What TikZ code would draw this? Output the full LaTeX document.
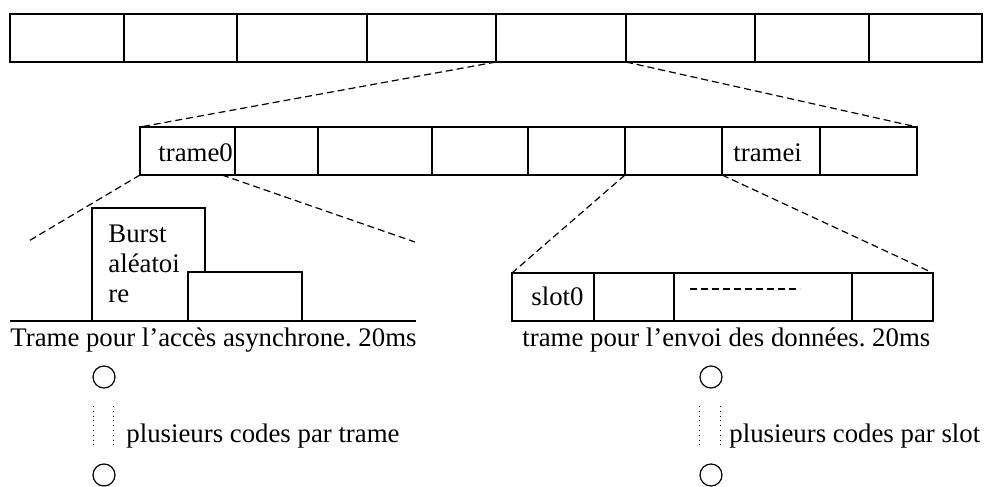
\documentclass[tikz,border=0pt]{standalone}
\usepackage{fontspec}
\setmainfont{Liberation Serif}
\frenchspacing
\begin{document}
\begin{tikzpicture}[x=0.5pt,y=-0.5pt,
  cellbox/.style={draw, line width=0.8pt, inner sep=0pt, outer sep=0pt},
  zoomline/.style={dash pattern=on 3.5pt off 2pt, line width=0.6pt},
  lbl/.style={inner sep=0pt, anchor=base west, font=\fontsize{13.4}{15}\selectfont},
  captext/.style={inner sep=0pt, anchor=base west, font=\fontsize{13.4}{15}\selectfont},
  dotline/.style={dotted, line width=0.4pt},
  ring/.style={circle, draw, line width=0.6pt, minimum size=11pt, inner sep=0pt}]
\useasboundingbox (0,0) rectangle (985,487);
\newcommand\cellnode[5]{\node[cellbox, minimum width={(#4-#2)*0.5pt}, minimum height={(#5-#3)*0.5pt}] (#1) at ({(#2+#4)/2},{(#3+#5)/2}) {};}
% top bar
\cellnode{a1}{10}{14}{124}{62}
\cellnode{a2}{124}{14}{237}{62}
\cellnode{a3}{237}{14}{367}{62}
\cellnode{a4}{367}{14}{496}{62}
\cellnode{a5}{496}{14}{626}{62}
\cellnode{a6}{626}{14}{755}{62}
\cellnode{a7}{755}{14}{869}{62}
\cellnode{a8}{869}{14}{982}{62}
% second bar
\cellnode{b1}{140}{127}{235}{175}
\cellnode{b2}{235}{127}{318}{175}
\cellnode{b3}{318}{127}{432}{175}
\cellnode{b4}{432}{127}{528}{175}
\cellnode{b5}{528}{127}{625}{175}
\cellnode{b6}{625}{127}{722}{175}
\cellnode{b7}{722}{127}{820}{175}
\cellnode{b8}{820}{127}{917}{175}
\node[lbl] (t0) at (158,161) {trame0};
\node[lbl] (ti) at (733,161) {tramei};
\draw[zoomline] (a5.south west) -- (b1.north west);
\draw[zoomline] (a6.south west) -- (b8.north east);
% left zoom
\coordinate (lz1) at (27,242);
\coordinate (lz2) at (415,242);
\coordinate (lz0) at (222,175);
\draw[zoomline] (b1.south west) -- (lz1);
\draw[zoomline] (lz0) -- (lz2);
\coordinate (bl) at (10,321);
\coordinate (br) at (416,321);
\draw[line width=0.8pt] (bl) -- (br);
\draw[line width=0.7pt] (92,321) -- (92,208) -- (205,208) -- (205,272);
\draw[line width=0.7pt] (188,321) -- (188,272) -- (302,272) -- (302,321);
\node[lbl] (bu1) at (108,242) {Burst};
\node[lbl] (bu2) at (108,272) {aléatoi};
\node[lbl] (bu3) at (108,302) {re};
\node[captext] (capL) at (10,346) {Trame pour l’accès asynchrone. 20ms};
% right zoom
\cellnode{c1}{512}{273}{594}{321}
\cellnode{c2}{594}{273}{674}{321}
\cellnode{c3}{674}{273}{852}{321}
\cellnode{c4}{852}{273}{933}{321}
\node[lbl] (s0) at (531,305) {slot0};
\draw[zoomline] (690,289) -- (800,289);
\draw[zoomline] (b6.south west) -- (c1.north west);
\draw[zoomline] (b7.south west) -- (c4.north east);
\node[captext] (capR) at (522,346) {trame pour l’envoi des données. 20ms};
% codes
\node[ring] (o1) at (104,377) {};
\node[ring] (o2) at (104,475) {};
\node[ring] (o3) at (711,377) {};
\node[ring] (o4) at (711,475) {};
\draw[dotline] (93,406) -- (93,446);
\draw[dotline] (113,406) -- (113,446);
\draw[dotline] (699,406) -- (699,446);
\draw[dotline] (720,406) -- (720,446);
\node[lbl] (pl) at (126,442) {plusieurs codes par trame};
\node[lbl] (pr) at (729,442) {plusieurs codes par slot};
\end{tikzpicture}
\end{document}
